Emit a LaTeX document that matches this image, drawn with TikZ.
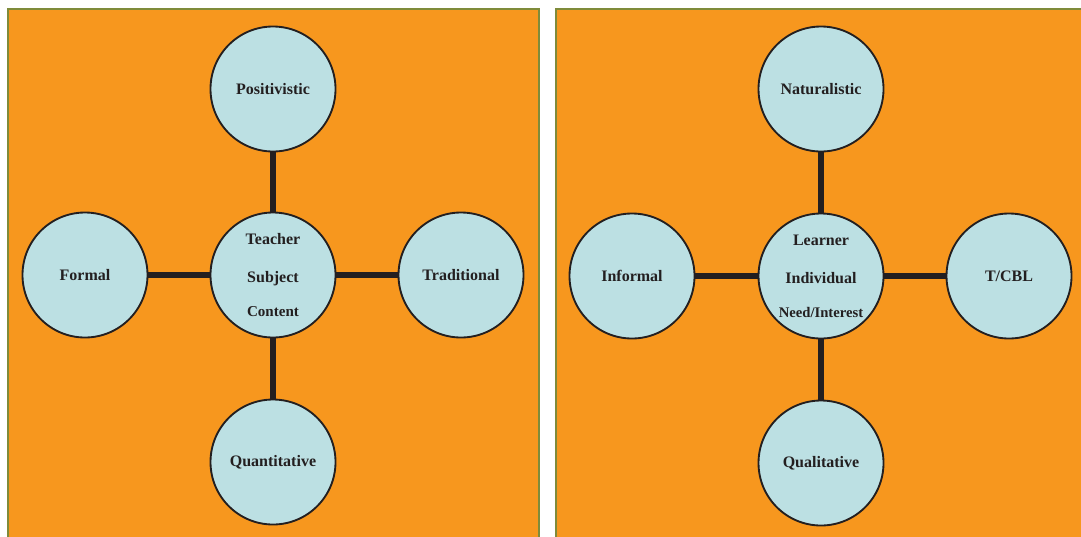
\documentclass[tikz,border=0pt]{standalone}
\usepackage{fontspec}
\setmainfont{Liberation Serif}
\usetikzlibrary{positioning}
\definecolor{panelorange}{HTML}{F7971E}
\definecolor{paneledge}{HTML}{7F8B3A}
\definecolor{bubblefill}{HTML}{BCE0E3}
\definecolor{inkdark}{HTML}{231F20}
\tikzstyle{panel} = [fill=panelorange, draw=paneledge, line width=1.5pt]
\tikzstyle{bubble} = [circle, minimum size=93.75pt, inner sep=0pt, align=center, draw=inkdark, line width=1.4pt, fill=bubblefill, text=inkdark, font=\fontsize{12}{14}\selectfont\bfseries]
\tikzstyle{spoke} = [line width=4.5pt, draw=inkdark]

\begin{document}
\begin{tikzpicture}[x=0.75pt, y=-0.75pt]
  \useasboundingbox (0,0) rectangle (1081,536);

  % Panels
  \begin{scope}
    \clip (0,0) rectangle (1081,536);
    \draw[panel] (8,9) rectangle (539,545);
    \draw[panel] (556,9) rectangle (1090,545);
  \end{scope}

  % Left side: teacher centred
  \node (teacher) at (273,275) [bubble] {Teacher\\[14.5pt]Subject\\[11.5pt]{\fontsize{11.3}{14}\selectfont Content}};
  \node (posit) at (273,89) [bubble] {Positivistic};
  \node (formal) at (85,275) [bubble] {Formal};
  \node (trad) at (461,275) [bubble] {Traditional};
  \node (quant) at (273,462) [bubble] {Quantitative};

  % Right side: learner centred
  \node (learner) at (821,276) [bubble] {Learner\\[14.5pt]Individual\\[11.5pt]{\fontsize{11}{14}\selectfont Need/Interest}};
  \node (natur) at (821,89) [bubble] {Naturalistic};
  \node (informal) at (632,276) [bubble] {Informal};
  \node (tcbl) at (1009,276) [bubble] {T/CBL};
  \node (qual) at (821,463) [bubble] {Qualitative};

  % Spokes from the left centre
  \draw[spoke] (teacher) -- (posit);
  \draw[spoke] (teacher) -- (formal);
  \draw[spoke] (teacher) -- (trad);
  \draw[spoke] (teacher) -- (quant);

  % Spokes from the right centre
  \draw[spoke] (learner) -- (natur);
  \draw[spoke] (learner) -- (informal);
  \draw[spoke] (learner) -- (tcbl);
  \draw[spoke] (learner) -- (qual);

\end{tikzpicture}
\end{document}
